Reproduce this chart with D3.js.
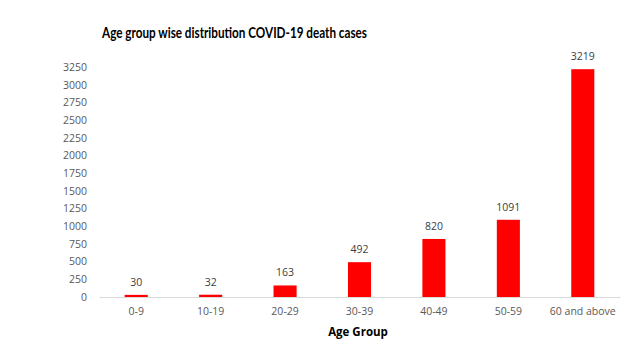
<!DOCTYPE html>
<html lang="en">
<head>
    <meta charset="UTF-8">
    <title>Age group wise distribution COVID-19 death cases</title>
</head>
<style>
    body {
        margin: 0;
        background: #fff;
    }
    text {
        font-family: "Open Sans", "Liberation Sans", sans-serif;
    }
    .bar {
        fill: #ff0000;
    }
    .axis--x path, .axis--x line {
        stroke: #d9d9d9;
    }
    .axis--y path, .axis--y line {
        display: none;
    }
    .tick text {
        fill: #595959;
        font-size: 10.5px;
    }
    .label {
        fill: #404040;
        font-size: 10.5px;
    }
</style>
<body>
<svg width="643" height="363"></svg>
<script src="https://d3js.org/d3.v7.min.js"></script>
<script>
    var categories = ["0-9", "10-19", "20-29", "30-39", "40-49", "50-59", "60 and above"];
    var deaths = [30, 32, 163, 492, 820, 1091, 3219];
    var yTicks = [0, 250, 500, 750, 1000, 1250, 1500, 1750, 2000, 2250, 2500, 2750, 3000, 3250];

    var svg = d3.select("svg"),
        margin = {top: 67, right: 23, bottom: 66, left: 99},
        width = +svg.attr("width") - margin.left - margin.right,
        height = +svg.attr("height") - margin.top - margin.bottom;

    var x = d3.scaleBand()
        .domain(categories)
        .range([0, width])
        .paddingInner(0.69)
        .paddingOuter(0.345);
    var y = d3.scaleLinear()
        .domain([0, 3250])
        .range([height, 0]);

    var g = svg.append("g")
        .attr("transform", "translate(" + margin.left + "," + margin.top + ")");

    // title
    svg.append("text")
        .attr("x", 102)
        .attr("y", 38)
        .attr("textLength", 265)
        .attr("lengthAdjust", "spacingAndGlyphs")
        .style("font-family", "Lato, 'Open Sans', sans-serif")
        .style("font-size", "15px")
        .style("font-weight", "bold")
        .style("fill", "#000")
        .text("Age group wise distribution COVID-19 death cases");

    // y axis, labels only
    g.append("g")
        .attr("class", "axis axis--y")
        .call(d3.axisLeft(y).tickValues(yTicks).tickFormat(d3.format("d")).tickSize(0).tickPadding(12))
        .select(".domain").remove();

    // bars
    g.selectAll(".bar")
        .data(deaths)
        .enter().append("rect")
        .attr("class", "bar")
        .attr("x", function (d, i) { return x(categories[i]); })
        .attr("y", function (d) { return y(d); })
        .attr("width", x.bandwidth())
        .attr("height", function (d) { return height - y(d); });

    // x axis
    g.append("g")
        .attr("class", "axis axis--x")
        .attr("transform", "translate(0," + height + ")")
        .call(d3.axisBottom(x).tickSize(0).tickPadding(11).tickSizeOuter(0));

    // value labels
    g.selectAll(".label")
        .data(deaths)
        .enter().append("text")
        .attr("class", "label")
        .attr("x", function (d, i) { return x(categories[i]) + x.bandwidth() / 2; })
        .attr("y", function (d) { return y(d) - 9; })
        .attr("text-anchor", "middle")
        .text(function (d) { return d; });

    // axis title
    svg.append("text")
        .attr("x", 358)
        .attr("y", 336)
        .attr("text-anchor", "middle")
        .style("font-size", "11.5px")
        .style("font-weight", "bold")
        .style("fill", "#000")
        .text("Age Group");
</script>
</body>
</html>
